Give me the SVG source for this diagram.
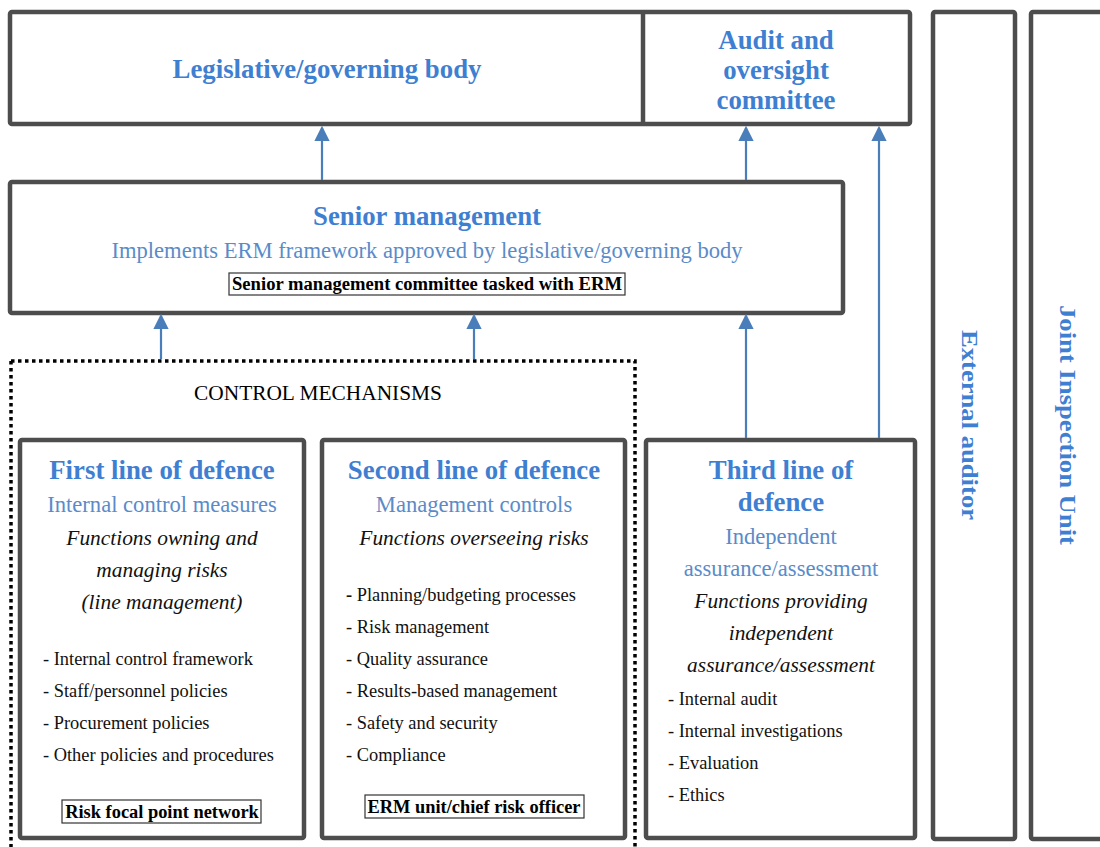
<svg xmlns="http://www.w3.org/2000/svg" width="1100" height="847" viewBox="0 0 1100 847">
<style>
.box{fill:#fff;stroke:#4d4d4d;stroke-width:4.5}
.lbl{fill:#fff;stroke:#333;stroke-width:1.2}
.t{font-family:"Liberation Serif","Times New Roman",serif}
.h{font-weight:bold;fill:#3f7fd2;font-size:26.8px;text-anchor:middle}
.s{fill:#5a8bc9;font-size:22.6px;text-anchor:middle}
.i{font-style:italic;fill:#111;font-size:21.4px;text-anchor:middle}
.li{fill:#111;font-size:18.4px}
.b{font-weight:bold;fill:#000;font-size:18.4px;text-anchor:middle}
.v{font-weight:bold;fill:#3f7fd2;font-size:24px;text-anchor:middle}
.c{stroke:#4a7ebb;stroke-width:2.2;fill:none}
</style>
<defs>
<marker id="ah" markerWidth="7" markerHeight="7" refX="6" refY="3.5" orient="auto" markerUnits="strokeWidth">
<path d="M0,0 L7,3.5 L0,7 z" fill="#4a7ebb"/>
</marker>
</defs>
<rect width="1100" height="847" fill="#fff"/>

<g id="control-mechanisms">
<path d="M11,361 H635 V847 M11,361 V847" fill="none" stroke="#000" stroke-width="3.5" stroke-dasharray="3.5,3.5"/>
<text class="t" x="318" y="400" font-size="21" text-anchor="middle" fill="#000" textLength="248" lengthAdjust="spacingAndGlyphs">CONTROL MECHANISMS</text>
</g>

<g id="top">
<rect class="box" x="10" y="12" width="900" height="112" rx="2"/>
<line x1="643" y1="12" x2="643" y2="124" stroke="#4d4d4d" stroke-width="4.5"/>
</g>
<g id="legislative">
<text class="t h" x="327" y="78">Legislative/governing body</text>
</g>
<g id="audit">
<text class="t h" x="776" y="49">Audit and</text>
<text class="t h" x="776" y="79">oversight</text>
<text class="t h" x="776" y="109">committee</text>
</g>

<g id="senior">
<rect class="box" x="10" y="182" width="833" height="131" rx="2"/>
<text class="t h" x="427" y="225">Senior management</text>
<text class="t s" x="427" y="258">Implements ERM framework approved by legislative/governing body</text>
<rect class="lbl" x="229" y="273" width="396" height="22"/>
<text class="t b" x="427" y="290" textLength="390" lengthAdjust="spacingAndGlyphs">Senior management committee tasked with ERM</text>
</g>

<g id="first">
<rect class="box" x="20" y="440" width="284" height="398" rx="2"/>
<text class="t h" x="162" y="479">First line of defence</text>
<text class="t s" x="162" y="512">Internal control measures</text>
<text class="t i" x="162" y="545">Functions owning and</text>
<text class="t i" x="162" y="577">managing risks</text>
<text class="t i" x="162" y="609">(line management)</text>
<text class="t li" x="43" y="665">- Internal control framework</text>
<text class="t li" x="43" y="697">- Staff/personnel policies</text>
<text class="t li" x="43" y="729">- Procurement policies</text>
<text class="t li" x="43" y="761">- Other policies and procedures</text>
<rect class="lbl" x="62" y="800" width="199" height="23"/>
<text class="t b" x="162" y="818">Risk focal point network</text>
</g>

<g id="second">
<rect class="box" x="322" y="440" width="303" height="398" rx="2"/>
<text class="t h" x="474" y="479">Second line of defence</text>
<text class="t s" x="474" y="512">Management controls</text>
<text class="t i" x="474" y="545">Functions overseeing risks</text>
<text class="t li" x="346" y="601"><tspan font-weight="bold">-</tspan> Planning/budgeting processes</text>
<text class="t li" x="346" y="633">- Risk management</text>
<text class="t li" x="346" y="665">- Quality assurance</text>
<text class="t li" x="346" y="697">- Results-based management</text>
<text class="t li" x="346" y="729">- Safety and security</text>
<text class="t li" x="346" y="761">- Compliance</text>
<rect class="lbl" x="365" y="795" width="219" height="23"/>
<text class="t b" x="474" y="813">ERM unit/chief risk officer</text>
</g>

<g id="third">
<rect class="box" x="646" y="440" width="269" height="398" rx="2"/>
<text class="t h" x="781" y="479">Third line of</text>
<text class="t h" x="781" y="511">defence</text>
<text class="t s" x="781" y="544">Independent</text>
<text class="t s" x="781" y="576">assurance/assessment</text>
<text class="t i" x="781" y="608">Functions providing</text>
<text class="t i" x="781" y="640">independent</text>
<text class="t i" x="781" y="672">assurance/assessment</text>
<text class="t li" x="668" y="705">- Internal audit</text>
<text class="t li" x="668" y="737">- Internal investigations</text>
<text class="t li" x="668" y="769">- Evaluation</text>
<text class="t li" x="668" y="801">- Ethics</text>
</g>

<g id="external-auditor">
<rect class="box" x="933" y="12" width="82" height="827" rx="2"/>
<text class="t v" transform="translate(962,425) rotate(90)" textLength="190" lengthAdjust="spacingAndGlyphs">External auditor</text>
</g>
<g id="jiu">
<rect class="box" x="1031" y="12" width="90" height="827" rx="2"/>
<text class="t v" transform="translate(1060,425) rotate(90)" textLength="240" lengthAdjust="spacingAndGlyphs">Joint Inspection Unit</text>
</g>

<g id="connectors">
<line class="c" x1="322" y1="180" x2="322" y2="128" marker-end="url(#ah)"/>
<line class="c" x1="746" y1="180" x2="746" y2="128" marker-end="url(#ah)"/>
<line class="c" x1="879" y1="438" x2="879" y2="128" marker-end="url(#ah)"/>
<line class="c" x1="746" y1="438" x2="746" y2="316" marker-end="url(#ah)"/>
<line class="c" x1="161" y1="359" x2="161" y2="316" marker-end="url(#ah)"/>
<line class="c" x1="474" y1="359" x2="474" y2="316" marker-end="url(#ah)"/>
</g>
</svg>
